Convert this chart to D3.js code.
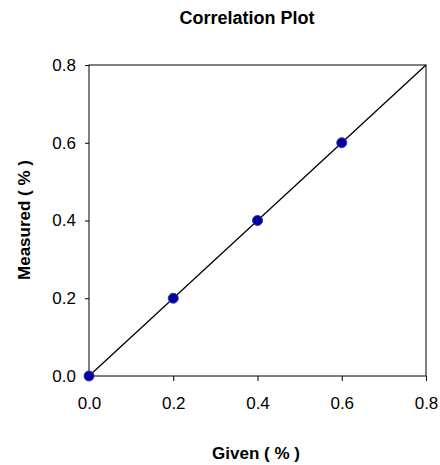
<!DOCTYPE html>
<html>
<head>
<meta charset="utf-8">
<script src="https://cdn.jsdelivr.net/npm/d3@7"></script>
<style>
  body { margin: 0; background: #fff; }
  svg { display: block; font-family: Arial, "Liberation Sans", sans-serif; }
</style>
</head>
<body>
<svg width="440" height="465"></svg>
<script>
const width = 440, height = 465;

// data
const given = [0.0, 0.2, 0.4, 0.6];
const measured = [0.0, 0.2, 0.4, 0.6];
const fitLine = [[0.0, 0.0], [0.8, 0.8]];
const tickValues = [0.0, 0.2, 0.4, 0.6, 0.8];

const margin = { top: 65, right: 14, bottom: 89, left: 89 };
const plotW = width - margin.left - margin.right;
const plotH = height - margin.top - margin.bottom;

const svg = d3.select("svg");

const x = d3.scaleLinear().domain([0, 0.8]).range([margin.left, margin.left + plotW]);
const y = d3.scaleLinear().domain([0, 0.8]).range([margin.top + plotH, margin.top]);

// title
svg.append("text")
  .attr("x", 247)
  .attr("y", 24)
  .attr("text-anchor", "middle")
  .attr("font-size", "18px")
  .attr("font-weight", "bold")
  .text("Correlation Plot");

// box
svg.append("rect")
  .attr("x", x(0))
  .attr("y", y(0.8))
  .attr("width", x(0.8) - x(0))
  .attr("height", y(0) - y(0.8))
  .attr("fill", "none")
  .attr("stroke", "#000")
  .attr("stroke-width", 1);

// axes
const xAxis = svg.append("g")
  .attr("transform", `translate(0,${y(0)})`)
  .call(d3.axisBottom(x).tickValues(tickValues).tickFormat(d3.format(".1f")).tickSizeOuter(0).tickSizeInner(5).tickPadding(16));
xAxis.select(".domain").remove();
xAxis.selectAll("text").attr("font-size", "17px").attr("font-family", "Arial, 'Liberation Sans', sans-serif").attr("fill", "#000");

const yAxis = svg.append("g")
  .attr("transform", `translate(${x(0)},0)`)
  .call(d3.axisLeft(y).tickValues(tickValues).tickFormat(d3.format(".1f")).tickSizeOuter(0).tickSizeInner(4).tickPadding(9));
yAxis.select(".domain").remove();
yAxis.selectAll("text").attr("font-size", "17px").attr("font-family", "Arial, 'Liberation Sans', sans-serif").attr("fill", "#000");

// fit line
svg.append("path")
  .datum(fitLine)
  .attr("fill", "none")
  .attr("stroke", "#000")
  .attr("stroke-width", 1.3)
  .attr("d", d3.line().x(d => x(d[0])).y(d => y(d[1])));

// points
svg.append("g").selectAll("circle")
  .data(given.map((g, i) => [g, measured[i]]))
  .enter().append("circle")
  .attr("cx", d => x(d[0]))
  .attr("cy", d => y(d[1]))
  .attr("r", 5)
  .attr("fill", "#000099")
  .attr("stroke", "#3333cc")
  .attr("stroke-width", 1);

// axis labels
svg.append("text")
  .attr("x", 256)
  .attr("y", 459)
  .attr("text-anchor", "middle")
  .attr("font-size", "17px")
  .attr("font-weight", "bold")
  .text("Given ( % )");

svg.append("text")
  .attr("transform", "rotate(-90)")
  .attr("x", -220)
  .attr("y", 30)
  .attr("text-anchor", "middle")
  .attr("font-size", "17px")
  .attr("font-weight", "bold")
  .text("Measured ( % )");
</script>
</body>
</html>
